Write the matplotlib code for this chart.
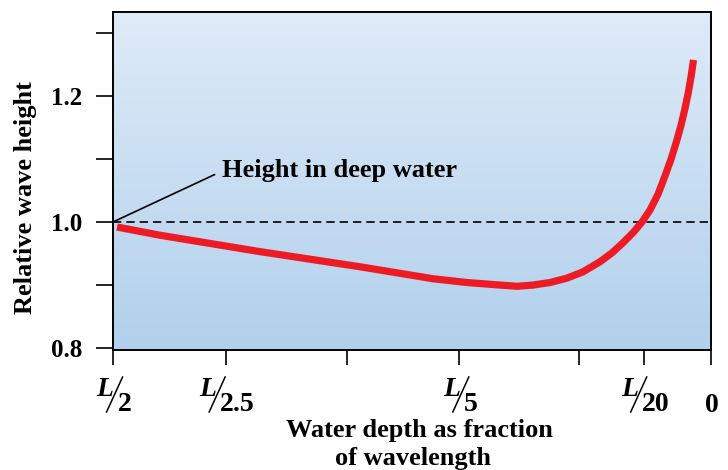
import numpy as np
import matplotlib.pyplot as plt
from matplotlib.lines import Line2D
from matplotlib.font_manager import FontProperties

# ---------------------------------------------------------
# Data (x in axis units 0..100, left edge = L/2, right edge = 0 depth)
# ---------------------------------------------------------
tick_pos = [0, 18.9, 39.1, 57.9, 78.0, 88.8, 100]
tick_denoms = ['2', '2.5', None, '5', None, '20', None]
zero_label = '0'

yticks_major = [0.8, 1.0, 1.2]
yticks_minor = [0.9, 1.1, 1.3]

curve_x = [0.67, 7.86, 16.22, 24.58, 32.94, 41.30, 49.67, 53.51, 59.20, 64.72,
           67.56, 70.23, 73.08, 75.92, 78.60, 81.44, 83.44, 85.28, 86.96,
           88.46, 89.80, 91.14, 92.31, 93.33, 94.21, 94.98, 95.65, 96.22, 96.71, 97.07]
curve_y = [0.992, 0.979, 0.966, 0.953, 0.941, 0.929, 0.916, 0.910, 0.904, 0.900,
           0.898, 0.900, 0.904, 0.911, 0.921, 0.937, 0.951, 0.967, 0.983,
           1.000, 1.019, 1.044, 1.073, 1.100, 1.127, 1.153, 1.180, 1.206, 1.233, 1.257]

deep_level = 1.0

# ---------------------------------------------------------
# Figure
# ---------------------------------------------------------
W, H = 728, 470
plt.rcParams['font.family'] = ['Liberation Serif', 'DejaVu Serif']
plt.rcParams['font.weight'] = 'bold'

fig = plt.figure(figsize=(W / 100, H / 100), dpi=100)
ax_l, ax_r, ax_t, ax_b = 113, 711, 12, 350
ax = fig.add_axes([ax_l / W, 1 - ax_b / H, (ax_r - ax_l) / W, (ax_b - ax_t) / H])
ax.set_xlim(0, 100)
ax.set_ylim(0.797, 1.333)

# gradient background
top = np.array([223, 235, 248]) / 255
bot = np.array([177, 208, 236]) / 255
t = np.linspace(0, 1, 256)[:, None]
grad = (top * (1 - t) + bot * t)[:, None, :].repeat(2, axis=1)
ax.imshow(grad, extent=[0, 1, 0, 1], transform=ax.transAxes, aspect='auto', zorder=0)

# deep water reference
ax.axhline(deep_level, color='black', lw=1.2, dashes=(5, 3), zorder=2)

# wave height curve
ax.plot(curve_x, curve_y, color='#ed1c24', lw=5.2, solid_capstyle='butt',
        solid_joinstyle='round', zorder=3)

ax.annotate('Height in deep water', xy=(0, deep_level), xytext=(18.3, 1.081),
            fontsize=19, fontweight='bold', va='center', ha='left',
            arrowprops=dict(arrowstyle='-', color='black', lw=1.2,
                            relpos=(0, 0.5), shrinkA=4, shrinkB=0))

# axes styling
for s in ax.spines.values():
    s.set_linewidth(1.4)
ax.set_yticks(yticks_major)
ax.set_yticks(yticks_minor, minor=True)
ax.set_yticklabels([f'{v:.1f}' for v in yticks_major], fontsize=18, fontweight='bold')
ax.tick_params(axis='y', which='both', direction='out', length=12, width=1.2, pad=10)
ax.set_xticks(tick_pos)
ax.set_xticklabels([])
ax.tick_params(axis='x', direction='out', length=11, width=1.2)

ax.set_ylabel('Relative wave height', fontsize=19, fontweight='bold')
ax.yaxis.set_label_coords(-0.127, 0.45)

fig.text(419 / W, 1 - 431 / H, 'Water depth as fraction', ha='center', va='center',
         fontsize=19, fontweight='bold')
fig.text(413 / W, 1 - 459 / H, 'of wavelength', ha='center', va='center',
         fontsize=19, fontweight='bold')

# ---------------------------------------------------------
# x tick labels of the form L/n
# ---------------------------------------------------------
renderer = fig.canvas.get_renderer()
fp_num = FontProperties(family='Liberation Serif', weight='bold', size=20)
for pos, den in zip(tick_pos, tick_denoms):
    if den is None:
        continue
    px = ax.transData.transform((pos, 0))[0]
    w, h, d = renderer.get_text_width_height_descent(den, fp_num, ismath=False)
    left = px - (21 + w) / 2 + 1
    top_y = ax_b + 27
    fig.text(left / W, 1 - (top_y + 19) / H, 'L', ha='left', va='baseline',
             fontsize=20, fontweight='bold', fontstyle='italic')
    fig.add_artist(Line2D([(left + 10) / W, (left + 26) / W],
                          [1 - (top_y + 35) / H, 1 - top_y / H],
                          color='black', lw=1.1, transform=fig.transFigure))
    fig.text((left + 21) / W, 1 - (top_y + 34) / H, den, ha='left', va='baseline',
             fontsize=20, fontweight='bold')

px0 = ax.transData.transform((tick_pos[-1], 0))[0]
fig.text((px0 + 1) / W, 1 - (ax_b + 62) / H, zero_label, ha='center', va='baseline',
         fontsize=20, fontweight='bold')

fig.savefig('out.png', dpi=100)
